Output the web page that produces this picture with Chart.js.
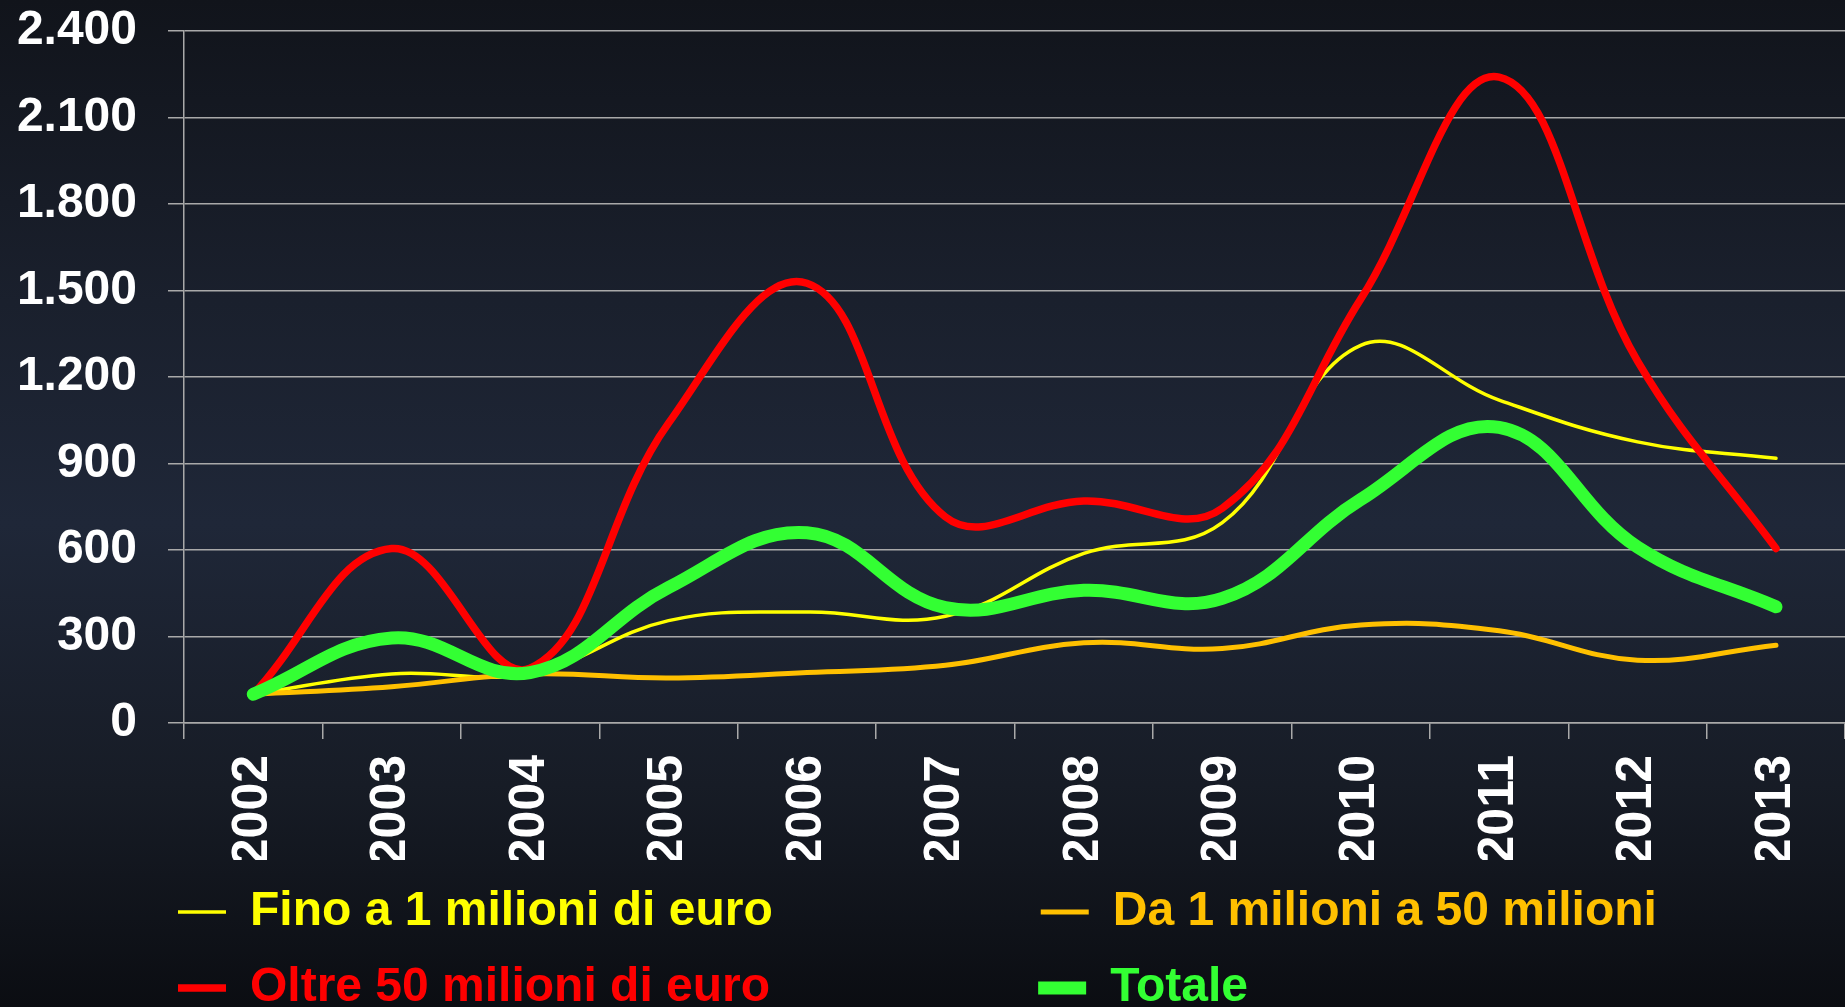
<!DOCTYPE html>
<html>
<head>
<meta charset="utf-8">
<script src="https://cdn.jsdelivr.net/npm/chart.js@4"></script>
<style>
    html, body { margin: 0; padding: 0; overflow: hidden; }
    body {
        width: 1845px; height: 1007px;
        background: linear-gradient(to bottom, #11141b 0%, #1a202d 30%, #1f2738 52%, #171c26 78%, #0b0d12 100%);
    }
    #wrap { width: 1852px; height: 1022px; }
</style>
</head>
<body>
<div id="wrap"><canvas id="myChart"></canvas></div>
<script>
var years = ["2002", "2003", "2004", "2005", "2006", "2007", "2008", "2009", "2010", "2011", "2012", "2013"];
var seriesNames = ["Fino a 1 milioni di euro", "Da 1 milioni a 50 milioni", "Oltre 50 milioni di euro", "Totale"];
var finoA1 = [100, 170, 172, 355, 385, 370, 588, 695, 1310, 1120, 975, 918];
var da1a50 = [100, 126, 170, 156, 175, 200, 278, 258, 340, 320, 218, 270];
var oltre50 = [100, 605, 190, 1040, 1525, 715, 770, 745, 1470, 2240, 1255, 605];
var totale = [100, 295, 175, 470, 660, 400, 460, 432, 775, 1025, 610, 403];
var yTickLabels = ["0", "300", "600", "900", "1.200", "1.500", "1.800", "2.100", "2.400"];

var FONT = "'Liberation Sans', Arial, sans-serif";
var GRID = "#a9a9a9";

// allunga il testo del primo elemento di ogni riga, cosi' le due colonne della legenda si allineano
function padLabel(text, target) {
    var c = document.createElement("canvas").getContext("2d");
    c.font = "normal bold 48px " + FONT;
    while (c.measureText(text + " ").width <= target) text += " ";
    return text;
}

// sposta la legenda verso destra (inizia sotto l'asse y)
var legendOffset = {
    id: "legendOffset",
    afterLayout: function (chart) {
        chart.legend.left += 150;
    }
};

function serie(i, values, color, width, order) {
    return {
        label: seriesNames[i],
        data: values,
        borderColor: color,
        backgroundColor: color,
        borderWidth: width,
        borderCapStyle: "round",
        borderJoinStyle: "round",
        pointRadius: 0,
        tension: 0.4,
        fill: false,
        order: order
    };
}

document.addEventListener("DOMContentLoaded", function () {
    var ctx = document.getElementById("myChart").getContext("2d");
    new Chart(ctx, {
        type: "line",
        data: {
            labels: years,
            datasets: [
                serie(0, finoA1, "#ffff00", 3.5, 4),
                serie(1, da1a50, "#ffc000", 5, 3),
                serie(2, oltre50, "#ff0000", 7.5, 2),
                serie(3, totale, "#33ff33", 13, 1)
            ]
        },
        options: {
            responsive: true,
            maintainAspectRatio: false,
            animation: false,
            layout: { padding: { top: 31, left: 0, right: 0, bottom: 0 } },
            scales: {
                x: {
                    offset: true,
                    ticks: {
                        color: "#ffffff",
                        font: { family: FONT, size: 50, weight: "bold" },
                        minRotation: 90,
                        maxRotation: 90,
                        autoSkip: false,
                        padding: 16
                    },
                    grid: { offset: true, drawOnChartArea: false, color: GRID, lineWidth: 1.5, tickLength: 16 },
                    border: { color: GRID, width: 1.5 },
                    afterFit: function (scale) { scale.height = 137; }
                },
                y: {
                    min: 0,
                    max: 2400,
                    ticks: {
                        stepSize: 300,
                        color: "#ffffff",
                        font: { family: FONT, size: 48, weight: "bold" },
                        padding: 31,
                        callback: function (v, i) { return yTickLabels[i]; }
                    },
                    grid: { color: GRID, lineWidth: 1.5, tickLength: 16 },
                    border: { color: GRID, width: 1.5 },
                    afterFit: function (scale) {
                        scale.width = 184;
                        scale.paddingTop = 0;
                        scale.paddingBottom = 0;
                    }
                }
            },
            plugins: {
                tooltip: { enabled: false },
                legend: {
                    position: "bottom",
                    align: "start",
                    labels: {
                        usePointStyle: true,
                        pointStyle: "line",
                        pointStyleWidth: 48,
                        padding: 28,
                        font: { family: FONT, size: 48, weight: "bold" },
                        sort: function (a, b) { return a.datasetIndex - b.datasetIndex; },
                        generateLabels: function (chart) {
                            var items = Chart.defaults.plugins.legend.labels.generateLabels(chart);
                            items.forEach(function (item) {
                                item.fontColor = chart.data.datasets[item.datasetIndex].borderColor;
                                if (item.datasetIndex % 2 === 0) item.text = padLabel(item.text, 767);
                            });
                            return items;
                        }
                    }
                }
            }
        },
        plugins: [legendOffset]
    });
});
</script>
</body>
</html>
